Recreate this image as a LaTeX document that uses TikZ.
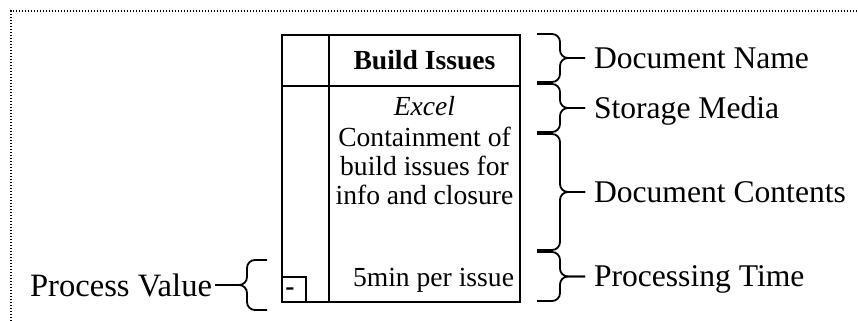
\documentclass[tikz,border=0pt]{standalone}
\usepackage{fontspec}
\setmainfont{Liberation Serif}
\begin{document}
\begin{tikzpicture}[x=0.5pt,y=0.5pt,line width=1pt,
    txt/.style={font=\fontsize{13.8}{14.5}\selectfont,inner sep=0pt},
    lbl/.style={font=\fontsize{15.8}{18}\selectfont,inner xsep=4pt,inner ysep=0pt,text depth=0pt},
    brc/.style={line width=0.9pt,rounded corners=4pt}]
    \useasboundingbox (0,0) rectangle (858,321);
    \draw[line width=0.7pt,dash pattern=on 0.7pt off 0.8pt](11,0)--(11,310)--(858,310);
    \draw(282,19) rectangle (520,286);
    \draw(329,19)--(329,286);
    \draw(282,235)--(520,235);
    \draw(282,19) rectangle (306,44);
    \node[txt](val) at (290,29){\textbf{-}};
    \node[txt,anchor=base](name) at (424.5,251){\textbf{Build Issues}};
    \node[txt,anchor=base](media) at (424.5,205){\textit{Excel}};
    \node[txt,anchor=base,align=center](cont) at (424.5,116){Containment of\\build issues for\\info and closure};
    \node[txt,anchor=base east](time) at (515,34){5min per issue};
    \node[lbl,anchor=west](dn) at (585,263){Document Name};
    \node[lbl,anchor=west](sm) at (585,213){Storage Media};
    \node[lbl,anchor=west](dc) at (585,129){Document Contents};
    \node[lbl,anchor=west](pt) at (585,44.5){Processing Time};
    \node[lbl,anchor=east,inner xsep=1pt,font=\fontsize{16.3}{18}\selectfont](pv) at (215,36){Process Value};
    \coordinate(t1) at (537,287); \coordinate(b1) at (537,239); \coordinate(m1) at (560,263);
    \coordinate(t2) at (537,237); \coordinate(b2) at (537,189); \coordinate(m2) at (560,213);
    \coordinate(t3) at (537,187); \coordinate(b3) at (537,71);  \coordinate(m3) at (560,129);
    \coordinate(t4) at (537,69);  \coordinate(b4) at (537,20);  \coordinate(m4) at (560,44.5);
    \coordinate(t5) at (267,61);  \coordinate(b5) at (267,11);  \coordinate(m5) at (247,36);
    \draw[brc](t1)-|(m1)--(dn.west); \draw[brc](b1)-|(m1)--(dn.west);
    \draw[brc](t2)-|(m2)--(sm.west); \draw[brc](b2)-|(m2)--(sm.west);
    \draw[brc](t3)-|(m3)--(dc.west); \draw[brc](b3)-|(m3)--(dc.west);
    \draw[brc](t4)-|(m4)--(pt.west); \draw[brc](b4)-|(m4)--(pt.west);
    \draw[brc](t5)-|(m5)--(pv.east); \draw[brc](b5)-|(m5)--(pv.east);
\end{tikzpicture}
\end{document}
